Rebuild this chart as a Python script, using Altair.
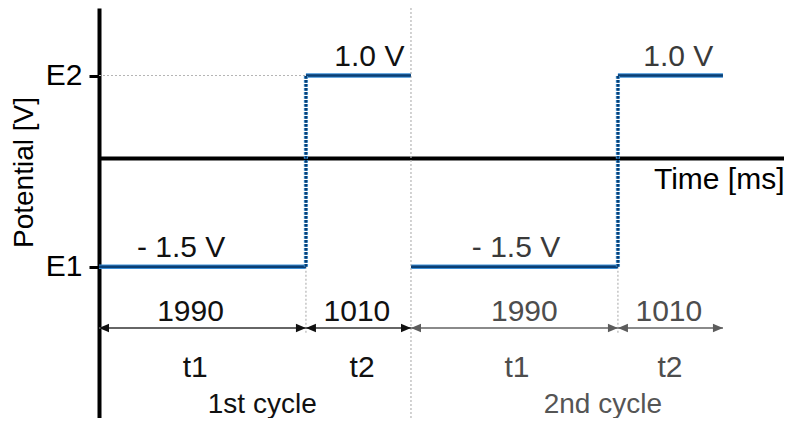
import altair as alt
import pandas as pd

# ---- data ----
seg_start = [0, 1990, 3000, 4990]          # ms
seg_end = [1990, 3000, 4990, 6000]         # ms
seg_level = [-1.5, 1.0, -1.5, 1.0]         # V
seg_cycle = [1, 1, 2, 2]
seg_phase = ["t1", "t2", "t1", "t2"]
seg_duration = ["1990", "1010", "1990", "1010"]
level_text = ["- 1.5 V", "1.0 V", "- 1.5 V", "1.0 V"]
level_label_t = [790, 2600, 4010, 5570]    # label anchors (ms)
duration_label_t = [880, 2480, 4090, 5480]
phase_label_t = [925, 2530, 4020, 5490]
step_t = [1990, 4990]
step_cycle = [1, 2]
cycle_names = ["1st cycle", "2nd cycle"]
cycle_label_t = [1570, 4845]
cycle_ids = [1, 2]
cycle_boundary_t = [3000]
E_values = [-1.5, 1.0]
E_names = ["E1", "E2"]

FONT = "Liberation Sans"
W, H = 685, 410
ARROW_ROW = 320
DUR_ROW = 313
PHASE_ROW = 369
CYCLE_ROW = 405

segs = pd.DataFrame({
    "t0": seg_start, "t1": seg_end, "level": seg_level, "cycle": seg_cycle,
    "phase": seg_phase, "duration": seg_duration, "level_text": level_text,
    "level_t": level_label_t, "dur_t": duration_label_t, "phase_t": phase_label_t,
})
steps = pd.DataFrame({"t": step_t, "cycle": step_cycle,
                      "lo": [min(E_values)] * len(step_t), "hi": [max(E_values)] * len(step_t)})
cycles = pd.DataFrame({"name": cycle_names, "t": cycle_label_t, "cycle": cycle_ids})
bounds = pd.DataFrame({"t": cycle_boundary_t})
guide = pd.DataFrame({"t0": [0], "t1": [step_t[0]], "level": [max(E_values)]})

xs = alt.Scale(domain=[0, 6587], nice=False, zero=False)
ys = alt.Scale(domain=[-3.4783, 1.8826], nice=False, zero=False)

label_expr = " : ".join(
    f"datum.value === {v} ? '{n}'" for v, n in zip(E_values, E_names)
) + " : ''"

x_axis = alt.Axis(
    title="Time [ms]", labels=False, ticks=False, grid=False,
    domainColor="black", domainWidth=4, offset=-260,
    titleFont=FONT, titleFontSize=30, titleFontWeight="normal", titleColor="black",
    titleAlign="right", titleX=W, titleY=30, titleBaseline="alphabetic",
)
y_axis = alt.Axis(
    values=E_values, labelExpr=label_expr, title="Potential [V]", grid=False,
    domainColor="black", domainWidth=4, tickColor="black", tickWidth=3, tickSize=10,
    labelFont=FONT, labelFontSize=30, labelColor="black", labelPadding=7,
    titleFont=FONT, titleFontSize=28, titleFontWeight="normal", titleColor="black",
    titleAngle=270, titleX=-67, titleY=164, titleAlign="center", titleBaseline="alphabetic",
)


def X(field):
    return alt.X(field, scale=xs, axis=x_axis)


def Y(field):
    return alt.Y(field, scale=ys, axis=y_axis)


# blue waveform
wave_glow = alt.Chart(segs).mark_rule(strokeWidth=4.5, color="#3d8fd6", strokeCap="butt").encode(
    x=X("t0:Q"), x2="t1:Q", y=Y("level:Q"),
)
wave_core = alt.Chart(segs).mark_rule(strokeWidth=2.4, color="#0b3f74", strokeCap="butt").encode(
    x=X("t0:Q"), x2="t1:Q", y=Y("level:Q"),
)
step_glow = alt.Chart(steps).mark_rule(strokeWidth=4.2, color="#4aa0e0", strokeDash=[2.6, 1.4]).encode(
    x=X("t:Q"), y=Y("lo:Q"), y2="hi:Q",
)
step_core = alt.Chart(steps).mark_rule(strokeWidth=2.6, color="#0b3f74", strokeDash=[2.6, 1.4]).encode(
    x=X("t:Q"), y=Y("lo:Q"), y2="hi:Q",
)

# grey dotted guides
bound_line = alt.Chart(bounds).mark_rule(strokeWidth=1.2, color="#b5b5b5", strokeDash=[2, 2]).encode(
    x=X("t:Q"), y=alt.value(0), y2=alt.value(H),
)
step_guides = alt.Chart(steps).mark_rule(strokeWidth=1.2, color="#b5b5b5", strokeDash=[2, 2]).encode(
    x=X("t:Q"), y=Y("lo:Q"), y2=alt.value(ARROW_ROW + 6),
)
e2_guide = alt.Chart(guide).mark_rule(strokeWidth=1.2, color="#b5b5b5", strokeDash=[2, 2]).encode(
    x=X("t0:Q"), x2="t1:Q", y=Y("level:Q"),
)

# arrows
shaft = alt.Chart(segs).mark_rule(strokeWidth=1.8).encode(
    x=X("t0:Q"), x2="t1:Q", y=alt.value(ARROW_ROW),
    color=alt.condition("datum.cycle == 1", alt.value("#666666"), alt.value("#8a8a8a")),
)
head_left = alt.Chart(segs).mark_point(
    shape="M0,0L1,-0.42L1,0.42Z", filled=True, size=400, opacity=1
).encode(
    x=X("t0:Q"), y=alt.value(ARROW_ROW),
    color=alt.condition("datum.cycle == 1", alt.value("#111111"), alt.value("#5c5c5c")),
)
head_right = alt.Chart(segs).mark_point(
    shape="M0,0L-1,-0.42L-1,0.42Z", filled=True, size=400, opacity=1
).encode(
    x=X("t1:Q"), y=alt.value(ARROW_ROW),
    color=alt.condition("datum.cycle == 1", alt.value("#111111"), alt.value("#5c5c5c")),
)

# texts
level_lbl = alt.Chart(segs).mark_text(font=FONT, fontSize=30, baseline="alphabetic", align="center", dy=-10).encode(
    x=X("level_t:Q"), y=Y("level:Q"), text="level_text:N",
    color=alt.condition("datum.cycle == 1", alt.value("#111111"), alt.value("#3a3a3a")),
)
dur_lbl = alt.Chart(segs).mark_text(font=FONT, fontSize=30, baseline="alphabetic", align="center").encode(
    x=X("dur_t:Q"), y=alt.value(DUR_ROW), text="duration:N",
    color=alt.condition("datum.cycle == 1", alt.value("#111111"), alt.value("#4d4d4d")),
)
phase_lbl = alt.Chart(segs).mark_text(font=FONT, fontSize=30, baseline="alphabetic", align="center").encode(
    x=X("phase_t:Q"), y=alt.value(PHASE_ROW), text="phase:N",
    color=alt.condition("datum.cycle == 1", alt.value("#111111"), alt.value("#4d4d4d")),
)
cycle_lbl = alt.Chart(cycles).mark_text(font=FONT, fontSize=28, baseline="alphabetic", align="center").encode(
    x=X("t:Q"), y=alt.value(CYCLE_ROW), text="name:N",
    color=alt.condition("datum.cycle == 1", alt.value("#111111"), alt.value("#555555")),
)

chart = alt.layer(
    wave_glow, bound_line, step_guides, e2_guide,
    wave_core, step_glow, step_core,
    shaft, head_left, head_right,
    level_lbl, dur_lbl, phase_lbl, cycle_lbl,
).properties(
    width=W, height=H, autosize="none",
    padding={"left": 91, "top": 0, "right": 0, "bottom": 0},
    background="white",
).configure_view(stroke=None)

chart.save("out.html", embed_options={"renderer": "svg", "actions": False})
